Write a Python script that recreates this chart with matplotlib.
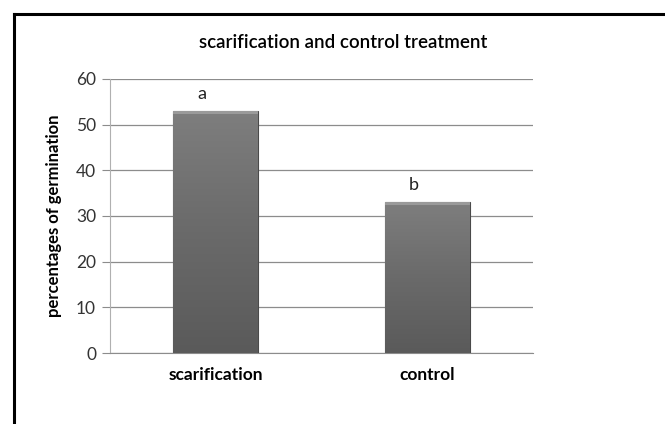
import numpy as np
import matplotlib
matplotlib.use('Agg')
import matplotlib.pyplot as plt
from matplotlib.patches import Rectangle

# data
categories = ['scarification', 'control']
germination = [53, 33]
letters = ['a', 'b']

plt.rcParams['font.family'] = ['Lato', 'DejaVu Sans']

W, H = 665, 424
fig = plt.figure(figsize=(W / 100, H / 100), dpi=100)
ax = fig.add_axes([110 / W, 1 - 353 / H, 423 / W, 274 / H])

x = np.arange(len(categories))
bars = ax.bar(x, germination, width=0.4, color='#6c6c6c',
              edgecolor='#4a4a4a', linewidth=0.8, zorder=3)

# vertical gradient inside each bar
grad = np.linspace(0, 1, 256).reshape(-1, 1)
cmap = matplotlib.colors.LinearSegmentedColormap.from_list(
    'g', ['#5a5a5a', '#6a6a6a', '#7e7e7e'])
for b in bars:
    x0, w, h = b.get_x(), b.get_width(), b.get_height()
    im = ax.imshow(grad, cmap=cmap, aspect='auto', origin='lower',
                   extent=[x0, x0 + w, 0, h], zorder=3.5)
    im.set_clip_path(b)
    # bevel strip at the top
    ax.add_patch(Rectangle((x0, h - 0.7), w, 0.7, facecolor='#9a9a9a',
                           edgecolor='none', zorder=4))

for xi, v, lab in zip(x, germination, letters):
    ax.text(xi - 0.065, v + 3.7, lab, ha='center', va='center',
            fontsize=13, color='#222222', zorder=5)

ax.set_xlim(-0.5, 1.5)
ax.set_ylim(0, 60)
ax.set_yticks(range(0, 61, 10))
ax.set_xticks(x)
ax.set_xticklabels(categories, fontsize=12.5, fontweight='bold')
ax.tick_params(axis='x', length=0, pad=10)
ax.tick_params(axis='y', length=6, color='#8c8c8c', labelsize=12.5,
               labelcolor='#333333', pad=4)
ax.yaxis.grid(True, color='#8c8c8c', linewidth=0.9, zorder=0)
ax.set_axisbelow(True)
for s in ['top', 'right']:
    ax.spines[s].set_visible(False)
ax.spines['left'].set_color('#b0b0b0')
ax.spines['bottom'].set_color('#8c8c8c')

ax.set_ylabel('percentages of germination', fontsize=12, fontweight='bold',
              labelpad=10)
fig.text(343 / W, 1 - 43 / H, 'scarification and control treatment',
         ha='center', va='center', fontsize=13.5, fontweight='semibold')

# outer chart border (top and left edges visible)
fig.add_artist(plt.Line2D([14 / W, 1.0], [1 - 14 / H, 1 - 14 / H],
                          color='black', linewidth=2.2, transform=fig.transFigure))
fig.add_artist(plt.Line2D([14 / W, 14 / W], [1 - 14 / H, 0.0],
                          color='black', linewidth=2.2, transform=fig.transFigure))

plt.savefig('out.png', dpi=100)
